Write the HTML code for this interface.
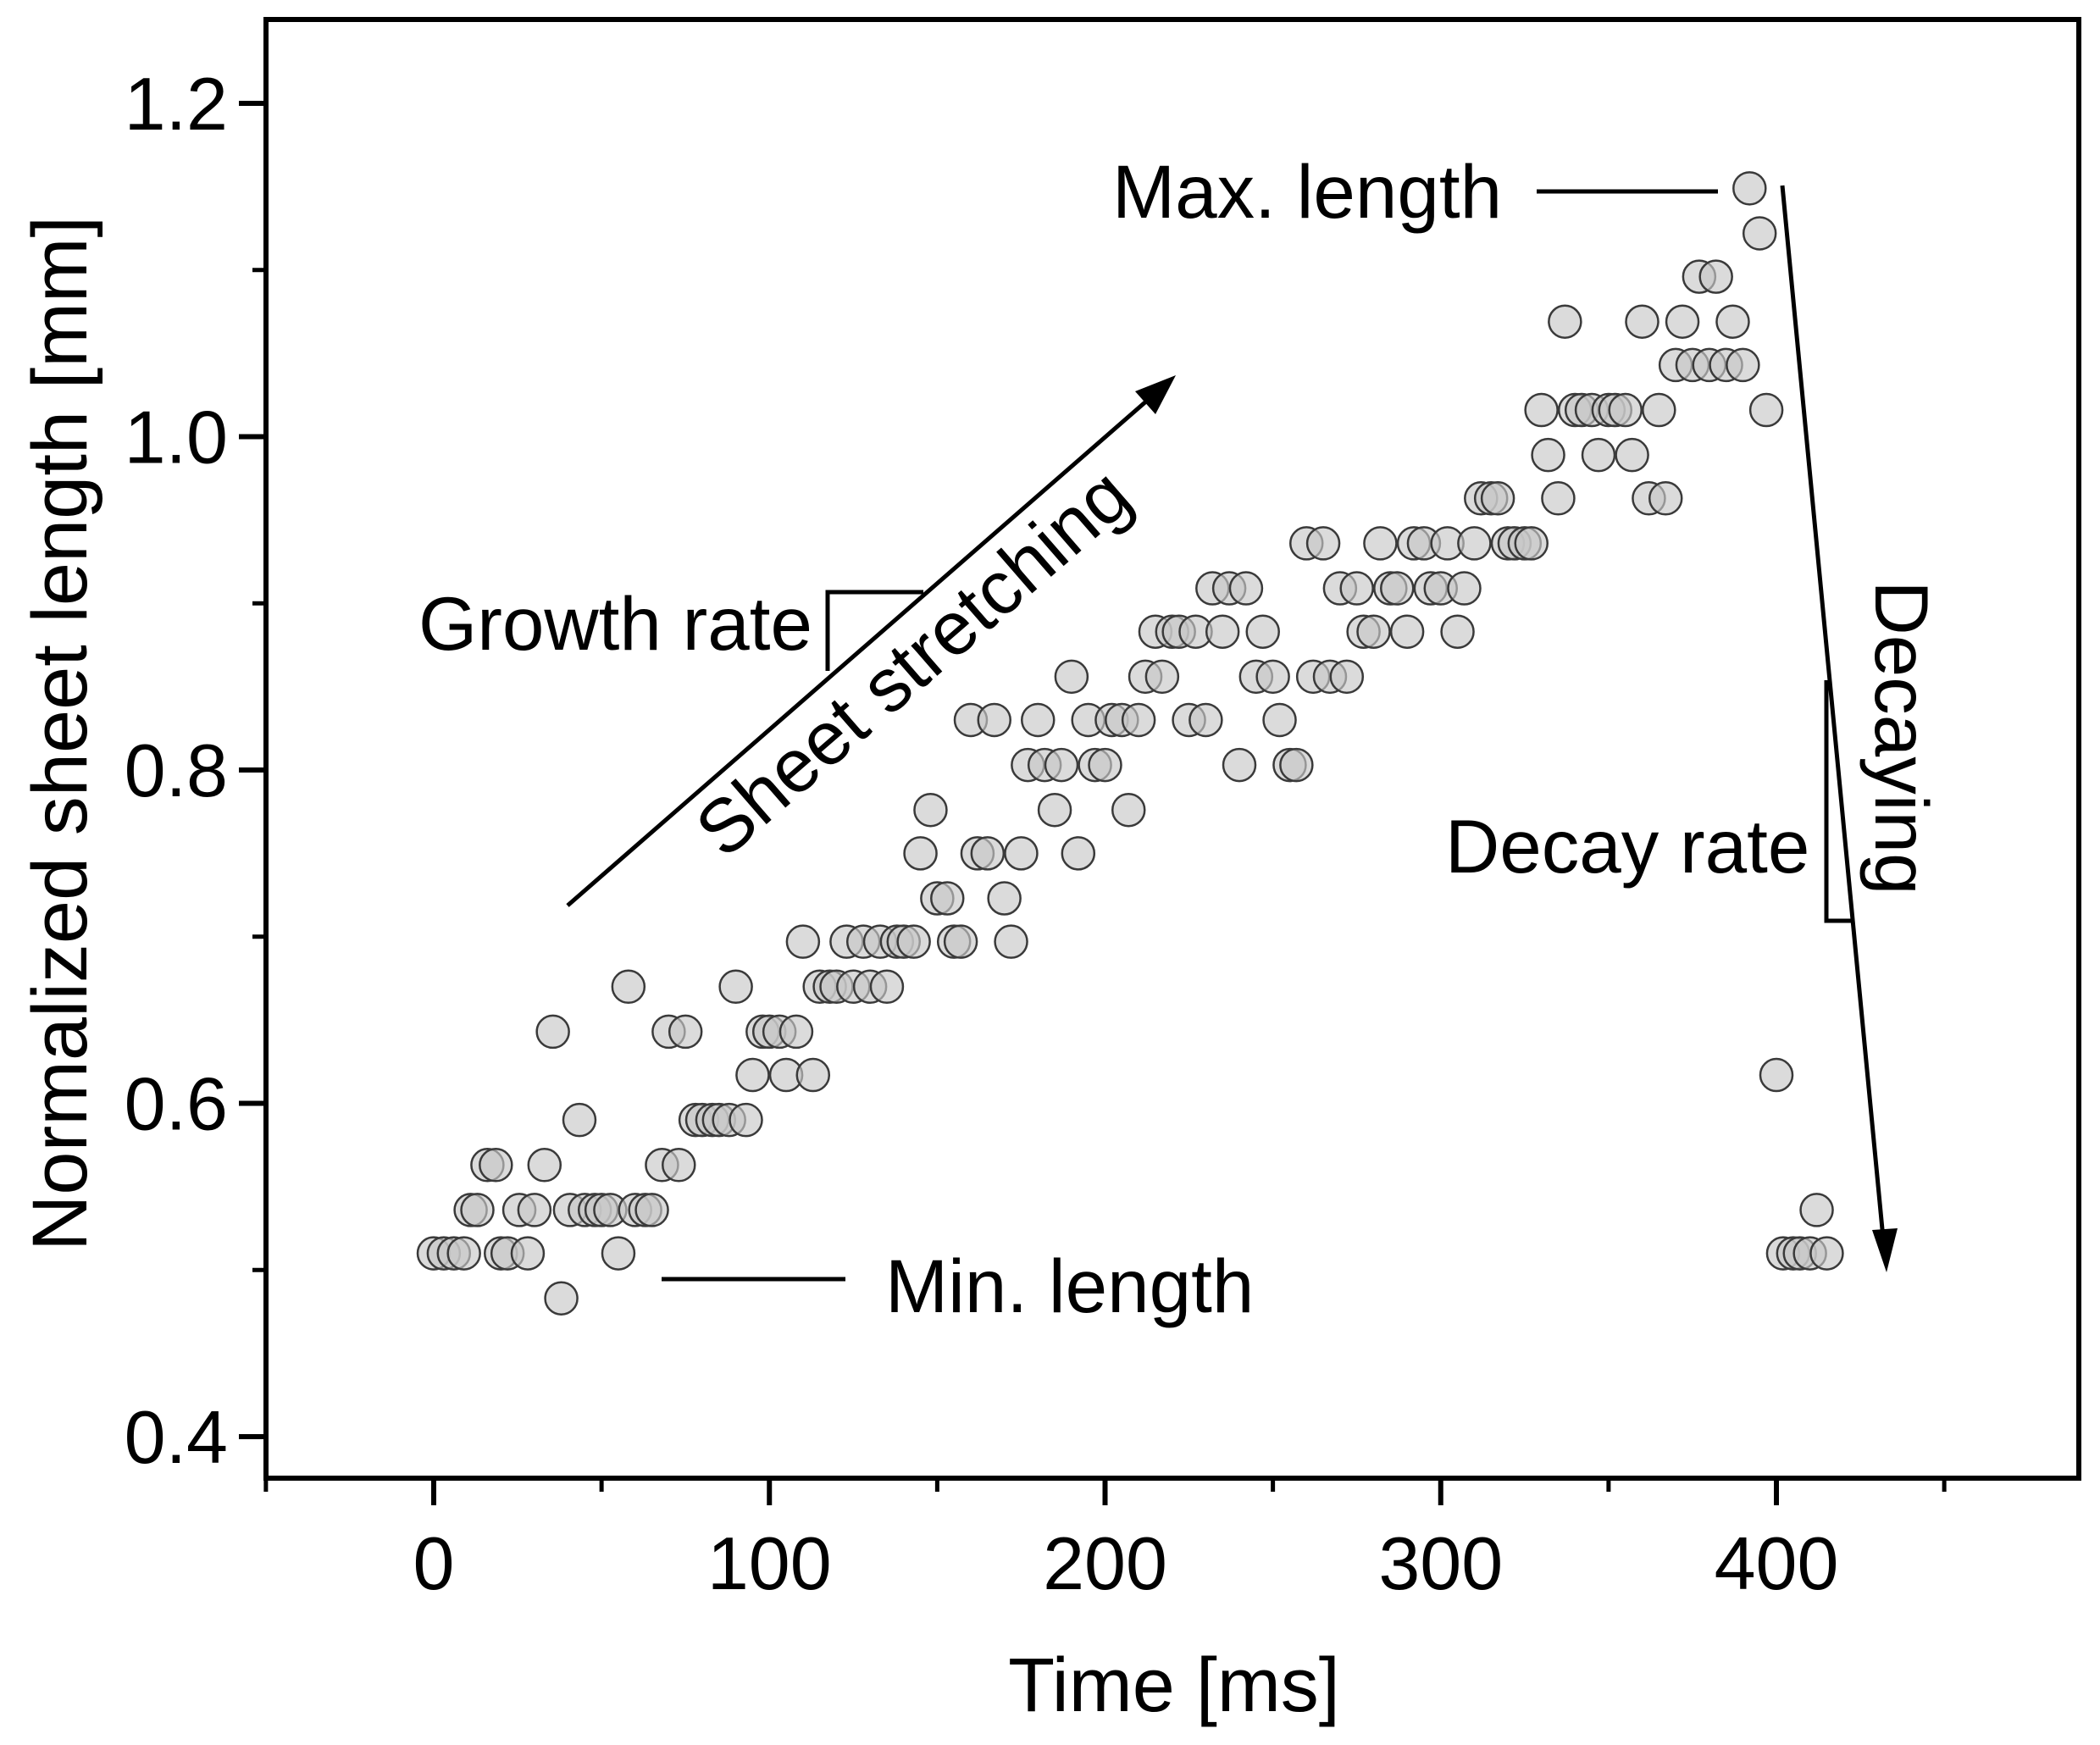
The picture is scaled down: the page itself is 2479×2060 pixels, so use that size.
<!DOCTYPE html>
<html><head><meta charset="utf-8"><style>
html,body{margin:0;padding:0;background:#fff;}
svg{display:block;font-family:"Liberation Sans",Arial,sans-serif;}
</style></head><body>
<svg id="chart" width="2479" height="2060" viewBox="0 0 2479 2060" xmlns="http://www.w3.org/2000/svg">
<rect x="0" y="0" width="2479" height="2060" fill="#fff"/>
<g id="points"></g>
<g id="axes"></g>
<g stroke="#000" stroke-width="5" fill="none">
  <line x1="1814" y1="226" x2="2028" y2="226"/>
  <line x1="781" y1="1510" x2="998" y2="1510"/>
  <polyline points="1090,699 977,699 977,792"/>
  <line x1="670" y1="1069" x2="1370" y2="459"/>
  <polygon points="1388,443 1340,462 1364,489" fill="#000" stroke="none"/>
  <line x1="2104" y1="219" x2="2224" y2="1472"/>
  <polygon points="2227,1502 2210,1452 2240,1450" fill="#000" stroke="none"/>
  <polyline points="2156,803 2156,1087 2186,1087"/>
</g>
<g font-size="89" fill="#000">
  <text x="1313" y="257">Max. length</text>
  <text x="1045" y="1549">Min. length</text>
  <text x="494" y="767">Growth rate</text>
  <text x="1706" y="1030">Decay rate</text>
  <text x="0" y="0" text-anchor="middle" transform="translate(1098,805) rotate(-41)">Sheet stretching</text>
  <text x="0" y="0" text-anchor="middle" transform="translate(2214,871) rotate(90)">Decaying</text>
</g>
<text x="1386" y="2020" font-size="90" text-anchor="middle">Time [ms]</text>
<text x="0" y="0" font-size="92" text-anchor="middle" transform="translate(102,866) rotate(-90)">Normalized sheet length [mm]</text>
</svg>
<script>
const times = [0,3,6,9,11,13,16,18.5,20,22,25.5,28,30,33,35.5,38,40.6,43.4,45,48,50,52.6,55,58,60,63,65,68,70,73,75,78,80,83,85,88,90,93,95,98,100,103,105,108,110,113,115,118,120,123,125,128,130,133,135,138,140,143,145,148,150,153,155,157,160,162,165,167,170,172,175,177,180,182,185,187,190,192,195,197,200,202,205,207,210,212,215,217,220,222,225,227,230,232,235,237,240,242,245,247,250,252,255,257,260,262,265,267,270,272,275,277,280,282,285,287,290,292,295,297,300,302,305,307,310,312,315,317,320,322,325,327,330,332,335,337,340,342,345,347,350,352,355,357,360,362,365,367,370,372,375,377,380,382,385,387,390,392,395,397,400,402,405,407,410,412,415];
const lengths = [0.510,0.510,0.510,0.510,0.536,0.536,0.563,0.563,0.510,0.510,0.536,0.510,0.536,0.563,0.643,0.483,0.536,0.590,0.536,0.536,0.536,0.536,0.510,0.670,0.536,0.536,0.536,0.563,0.643,0.563,0.643,0.590,0.590,0.590,0.590,0.590,0.670,0.590,0.617,0.643,0.643,0.643,0.617,0.643,0.697,0.617,0.670,0.670,0.670,0.697,0.670,0.697,0.670,0.697,0.670,0.697,0.697,0.697,0.750,0.776,0.723,0.723,0.697,0.697,0.830,0.750,0.750,0.830,0.723,0.697,0.750,0.803,0.830,0.803,0.776,0.803,0.856,0.750,0.830,0.803,0.803,0.830,0.830,0.776,0.830,0.856,0.883,0.856,0.883,0.883,0.830,0.883,0.830,0.909,0.883,0.909,0.803,0.909,0.856,0.883,0.856,0.830,0.803,0.803,0.936,0.856,0.936,0.856,0.909,0.856,0.909,0.883,0.883,0.936,0.909,0.909,0.883,0.936,0.936,0.909,0.909,0.936,0.883,0.909,0.936,0.963,0.963,0.963,0.936,0.936,0.936,0.936,1.016,0.989,0.963,1.069,1.016,1.016,1.016,0.989,1.016,1.016,1.016,0.989,1.069,0.963,1.016,0.963,1.043,1.069,1.043,1.096,1.043,1.096,1.043,1.069,1.043,1.149,1.122,1.016,0.617,0.510,0.510,0.510,0.510,0.536,0.510];
const xTicks = [0,100,200,300,400];
const xTickLabels = ["0","100","200","300","400"];
const xMinorTicks = [-50,50,150,250,350,450];
const yTicks = [0.4,0.6,0.8,1.0,1.2];
const yTickLabels = ["0.4","0.6","0.8","1.0","1.2"];
const yMinorTicks = [0.5,0.7,0.9,1.1];

const X0=512, XPER=3.9625;
const Y0=1696, YPER=1967.5;
function sx(t){return X0+t*XPER;}
function sy(v){return Y0-(v-0.4)*YPER;}
const NS="http://www.w3.org/2000/svg";
const pg=document.getElementById('points');
for(let i=0;i<times.length;i++){
  const c=document.createElementNS(NS,'circle');
  c.setAttribute('cx',sx(times[i]));c.setAttribute('cy',sy(lengths[i]));c.setAttribute('r',19);
  c.setAttribute('fill','rgba(200,200,200,0.65)');c.setAttribute('stroke','#3a3a3a');c.setAttribute('stroke-width','2.5');
  
  
  pg.appendChild(c);
}
const ax=document.getElementById('axes');
function line(x1,y1,x2,y2,w,name){
  const l=document.createElementNS(NS,'line');
  l.setAttribute('x1',x1);l.setAttribute('y1',y1);l.setAttribute('x2',x2);l.setAttribute('y2',y2);
  l.setAttribute('stroke','#000');l.setAttribute('stroke-width',w);
  
  
  ax.appendChild(l);
}
function text(x,y,s,anchor,name){
  const t=document.createElementNS(NS,'text');
  t.setAttribute('x',x);t.setAttribute('y',y);t.setAttribute('font-size','88');t.setAttribute('text-anchor',anchor);
  t.textContent=s;
  
  
  ax.appendChild(t);
}
const L=314,R=2454,T=23,B=1745;
const frame=document.createElementNS(NS,'rect');
frame.setAttribute('x',L);frame.setAttribute('y',T);frame.setAttribute('width',R-L);frame.setAttribute('height',B-T);
frame.setAttribute('fill','none');frame.setAttribute('stroke','#000');frame.setAttribute('stroke-width','6');


ax.appendChild(frame);
xTicks.forEach((t,i)=>{line(sx(t),B,sx(t),B+32,6,'x-tick');text(sx(t),B+131,xTickLabels[i],'middle','x-tick-label');});
xMinorTicks.forEach(t=>{line(sx(t),B,sx(t),B+16,5,'x-minor-tick');});
yTicks.forEach((v,i)=>{line(L-32,sy(v),L,sy(v),6,'y-tick');text(L-45,sy(v)+31,yTickLabels[i],'end','y-tick-label');});
yMinorTicks.forEach(v=>{line(L-16,sy(v),L,sy(v),5,'y-minor-tick');});
</script>
</body></html>
